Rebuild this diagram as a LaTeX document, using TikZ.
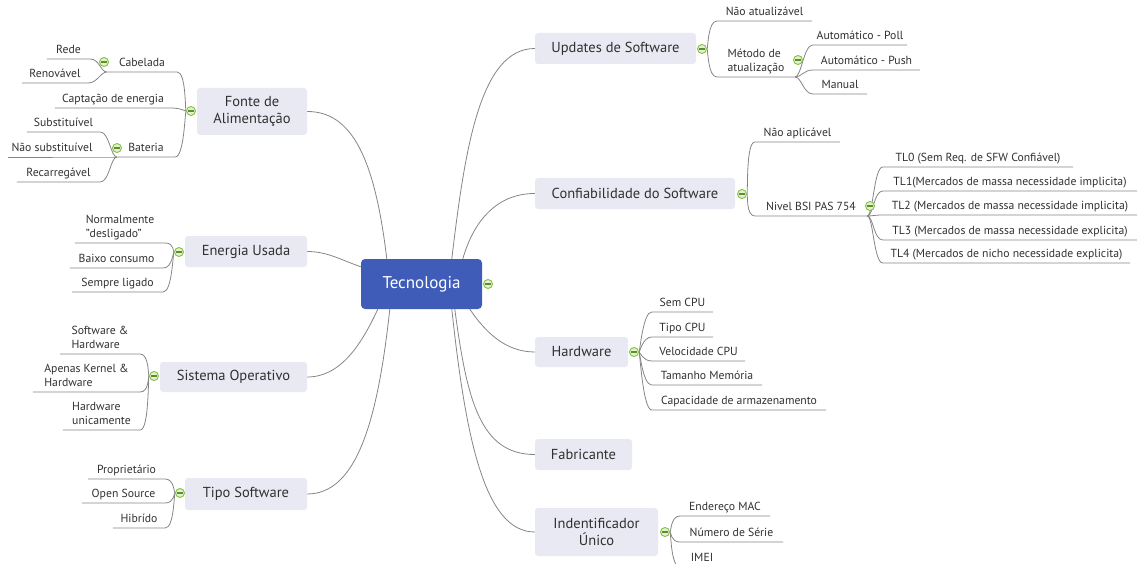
\documentclass[tikz,border=0pt]{standalone}
\usepackage{fontspec}
\setmainfont{PT Sans}
\definecolor{linegray}{HTML}{858585}
\definecolor{topicfill}{HTML}{E8E9F2}
\definecolor{rootfill}{HTML}{3F5DB8}
\definecolor{txt}{HTML}{303030}
\definecolor{iconring}{HTML}{86C140}
\definecolor{iconfill}{HTML}{E3F1D3}
\definecolor{iconbar}{HTML}{5E8C31}
\pgfdeclarelayer{background}
\pgfsetlayers{background,main}
\begin{document}
\begin{tikzpicture}[x=1pt,y=-1pt,
  conn/.style={draw=linegray, line width=0.8pt},
  root/.style={rectangle, rounded corners=4pt, fill=rootfill, text=white,
    font=\fontsize{17}{18}\selectfont, inner sep=0pt,
    minimum width=121pt, minimum height=50pt},
  topic/.style={rectangle, rounded corners=3pt, fill=topicfill, text=txt,
    font=\fontsize{14.5}{16.5}\selectfont, inner sep=0pt, align=center},
  leaf/.style={anchor=south, inner xsep=0pt, inner ysep=2.8pt, text depth=2.5pt,
    font=\fontsize{11.7}{13.8}\selectfont, text=txt, align=center},
  leafml/.style={leaf, align=left},
  collapse/.style={circle, draw=iconring, fill=iconfill, line width=0.9pt,
    minimum size=9pt, inner sep=0pt,
    path picture={\draw[iconbar, line width=1.1pt]
      ([xshift=-2.6pt]path picture bounding box.center) --
      ([xshift=2.6pt]path picture bounding box.center);}},
]
\useasboundingbox (0,0) rectangle (1137,564);

% ---------- central node and main topics ----------
\node[root] (tec) at (421.5,284) {Tecnologia};

\node[topic, minimum width=161pt, minimum height=31pt] (upd)  at (615.5,48.5) {Updates de Software};
\node[topic, minimum width=200pt, minimum height=31pt] (conf) at (635,193.5) {Confiabilidade do Software};
\node[topic, minimum width=93pt,  minimum height=30pt] (hw)   at (581.5,352) {Hardware};
\node[topic, minimum width=97pt,  minimum height=31pt] (fab)  at (583.5,454.5) {Fabricante};
\node[topic, minimum width=123pt, minimum height=48pt] (uid)  at (596.5,532) {Indentificador\\Único};
\node[topic, minimum width=110pt, minimum height=47pt] (fonte) at (252,111.5) {Fonte de\\Alimentação};
\node[topic, minimum width=122pt, minimum height=31pt] (ener) at (246,251.5) {Energia Usada};
\node[topic, minimum width=147pt, minimum height=30pt] (so)   at (233.5,377) {Sistema Operativo};
\node[topic, minimum width=122pt, minimum height=32pt] (tipo) at (246,494) {Tipo Software};

% ---------- leaves: left side ----------
\node[leaf, minimum width=70pt]  (cab)    at (142,72)   {Cabelada};
\node[leaf, minimum width=43pt]  (rede)   at (68.5,59)  {Rede};
\node[leaf, minimum width=66pt]  (renov)  at (55,83)    {Renovável};
\node[leaf, minimum width=116pt] (capt)   at (113,108)  {Captação de energia};
\node[leaf, minimum width=58pt]  (bat)    at (146,157)  {Bateria};
\node[leaf, minimum width=73pt]  (subst)  at (63.5,132) {Substituível};
\node[leaf, minimum width=88pt]  (naosub) at (52,157)   {Não substituível};
\node[leaf, minimum width=83pt]  (recar)  at (58.5,182) {Recarregável};

\node[leafml, minimum width=90pt] (normal) at (120,243)  {Normalmente\\"desligado"};
\node[leaf, minimum width=93pt]   (baixo)  at (116.5,268) {Baixo consumo};
\node[leaf, minimum width=91pt]   (sempre) at (117.5,292) {Sempre ligado};

\node[leafml, minimum width=80pt]  (swhw)   at (100,354)  {Software \&\\Hardware};
\node[leafml, minimum width=107pt] (kernel) at (86.5,392) {Apenas Kernel \&\\Hardware};
\node[leafml, minimum width=77pt]  (hwun)   at (101.5,430) {Hardware\\unicamente};

\node[leaf, minimum width=77pt] (prop) at (126.5,479) {Proprietário};
\node[leaf, minimum width=83pt] (open) at (123.5,503) {Open Source};
\node[leaf, minimum width=52pt] (hib)  at (139,528)   {Hibrído};

% ---------- leaves: right side ----------
\node[leaf, minimum width=95pt]  (naoat)  at (764.5,21) {Não atualizável};
\node[leafml, minimum width=78pt] (met)   at (756,77)   {Método de\\atualização};
\node[leaf, minimum width=94pt]  (poll)   at (860,45)   {Automático - Poll};
\node[leaf, minimum width=107pt] (push)   at (866.5,70) {Automático - Push};
\node[leaf, minimum width=54pt]  (manual) at (840,94)   {Manual};

\node[leaf, minimum width=85pt]  (naoap) at (797.5,142) {Não aplicável};
\node[leaf, minimum width=112pt] (nivel) at (811,216)   {Nivel BSI PAS 754};
\node[leaf, minimum width=190pt] (tl0) at (978,167)  {TL0 (Sem Req. de SFW Confiável)};
\node[leaf, minimum width=254pt] (tl1) at (1010,191) {TL1(Mercados de massa necessidade implicita)};
\node[leaf, minimum width=254pt] (tl2) at (1010,215) {TL2 (Mercados de massa necessidade implicita)};
\node[leaf, minimum width=254pt] (tl3) at (1010,240) {TL3 (Mercados de massa necessidade explicita)};
\node[leaf, minimum width=247pt] (tl4) at (1006.5,263) {TL4 (Mercados de nicho necessidade explicita)};

\node[leaf, minimum width=61pt]  (semcpu)  at (682.5,312) {Sem CPU};
\node[leaf, minimum width=61pt]  (tipocpu) at (682.5,337) {Tipo CPU};
\node[leaf, minimum width=93pt]  (veloc)   at (698.5,361) {Velocidade CPU};
\node[leaf, minimum width=110pt] (tam)     at (707,385)   {Tamanho Memória};
\node[leaf, minimum width=174pt] (capac)   at (739,410)   {Capacidade de armazenamento};

\node[leaf, minimum width=90pt]  (mac)   at (725,516)   {Endereço MAC};
\node[leaf, minimum width=103pt] (serie) at (731.5,542) {Número de Série};
\node[leaf, minimum width=44pt]  (imei)  at (702,567)   {IMEI};

% ---------- collapse markers ----------
\node[collapse] (itec)   at (488,284) {};
\node[collapse] (iupd)   at (702,49)  {};
\node[collapse] (iconf)  at (742,194) {};
\node[collapse] (ihw)    at (634,352) {};
\node[collapse] (iuid)   at (665,532) {};
\node[collapse] (ifonte) at (191,111) {};
\node[collapse] (iener)  at (179,252) {};
\node[collapse] (iso)    at (154,376) {};
\node[collapse] (itipo)  at (180,493) {};
\node[collapse] (icab)   at (104,62)  {};
\node[collapse] (ibat)   at (117,148) {};
\node[collapse] (imet)   at (798,60)  {};
\node[collapse] (inivel) at (870,206) {};

% ---------- connectors, behind the nodes ----------
\begin{pgfonlayer}{background}
% central node to main topics
\draw[conn] ([xshift=91pt]tec.north west)  .. controls +(13,-109) and +(-55,0) .. (upd.west);
\draw[conn] ([xshift=102pt]tec.north west) .. controls +(10,-35) and +(-40,0) .. (conf.west);
\draw[conn] ([xshift=109pt]tec.south west) .. controls +(15,22) and +(-30,0) .. (hw.west);
\draw[conn] ([xshift=94pt]tec.south west)  .. controls +(12,90) and +(-55,0) .. (fab.west);
\draw[conn] ([xshift=91pt]tec.south west)  .. controls +(14,130) and +(-50,0) .. (uid.west);
\draw[conn] ([xshift=26pt]tec.north west)  .. controls +(-12,-100) and +(45,0) .. (fonte.east);
\draw[conn] ([yshift=-8pt]tec.north west)  .. controls +(-20,-7) and +(20,0) .. (ener.east);
\draw[conn] ([xshift=17pt]tec.south west)  .. controls +(-15,32) and +(35,0) .. (so.east);
\draw[conn] ([xshift=29pt]tec.south west)  .. controls +(-12,110) and +(50,0) .. (tipo.east);

% left side branches
\foreach \p/\c in {ifonte/cab, ifonte/capt, ifonte/bat,
                   cab.south west/rede, cab.south west/renov,
                   bat.south west/subst, bat.south west/naosub, bat.south west/recar,
                   iener/normal, iener/baixo, iener/sempre,
                   iso/swhw, iso/kernel, iso/hwun,
                   itipo/prop, itipo/open, itipo/hib}
  \draw[conn] (\p) .. controls +(-6,0) and +(9,0) .. (\c.south east) -- (\c.south west);

% right side branches
\foreach \p/\c in {iupd/naoat, iupd/met,
                   met.south east/poll, met.south east/push, met.south east/manual,
                   iconf/naoap, iconf/nivel,
                   nivel.south east/tl0, nivel.south east/tl1, nivel.south east/tl2,
                   nivel.south east/tl3, nivel.south east/tl4,
                   ihw/semcpu, ihw/tipocpu, ihw/veloc, ihw/tam, ihw/capac,
                   iuid/mac, iuid/serie, iuid/imei}
  \draw[conn] (\p) .. controls +(6,0) and +(-9,0) .. (\c.south west) -- (\c.south east);
\end{pgfonlayer}
\end{tikzpicture}
\end{document}
